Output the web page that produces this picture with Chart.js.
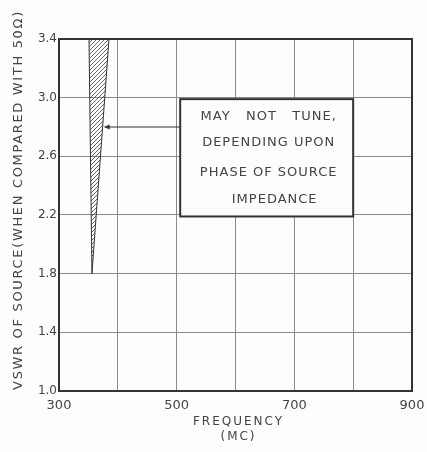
<!DOCTYPE html>
<html>
<head>
<meta charset="utf-8">
<script src="https://cdn.jsdelivr.net/npm/chart.js@4"></script>
<style>
  html, body { margin: 0; padding: 0; background: #fdfdfb; }
  #wrap { width: 427px; height: 452px; }
</style>
</head>
<body>
<div id="wrap"><canvas id="chart" width="427" height="452"></canvas></div>
<script>
// values
const xTickLabels = [300, 500, 700, 900];
const yTickLabels = [1.0, 1.4, 1.8, 2.2, 2.6, 3.0, 3.4];
const regionFreq = [351, 385, 356, 351];   // MC
const regionVswr = [3.4, 3.4, 1.8, 3.4];
const noteLines = ["MAY   NOT   TUNE,", "DEPENDING UPON", "PHASE OF SOURCE", "IMPEDANCE"];
const yTitle = "VSWR OF SOURCE(WHEN COMPARED WITH 50\u03A9)";
const xTitle = ["FREQUENCY", "(MC)"];

const ink = "#444";
const font = "'DejaVu Sans', sans-serif";

// diagonal hatch
function hatch() {
  const c = document.createElement("canvas");
  c.width = 4; c.height = 4;
  const g = c.getContext("2d");
  g.strokeStyle = "#555";
  g.lineWidth = 0.9;
  g.beginPath();
  g.moveTo(0, 4); g.lineTo(4, 0);
  g.moveTo(-1, 1); g.lineTo(1, -1);
  g.moveTo(3, 5); g.lineTo(5, 3);
  g.stroke();
  return g.createPattern(c, "repeat");
}

const notePlugin = {
  id: "note",
  afterDraw(chart) {
    const ctx = chart.ctx;
    const xs = chart.scales.x, ys = chart.scales.y;
    const ca = chart.chartArea;
    ctx.save();
    // outer frame
    ctx.strokeStyle = "#333";
    ctx.lineWidth = 2;
    ctx.strokeRect(ca.left, ca.top, ca.right - ca.left, ca.bottom - ca.top);
    // annotation box
    const l = xs.getPixelForValue(506), r = xs.getPixelForValue(800);
    const t = ys.getPixelForValue(2.99), b = ys.getPixelForValue(2.19);
    ctx.fillStyle = "#fdfdfb";
    ctx.fillRect(l, t, r - l, b - t);
    ctx.strokeRect(l, t, r - l, b - t);
    ctx.fillStyle = ink;
    ctx.font = "13px " + font;
    ctx.letterSpacing = "1px";
    ctx.textAlign = "center";
    ctx.textBaseline = "middle";
    const cx = (l + r) / 2 + 2;
    const ly = [117, 143, 173, 200];
    noteLines.forEach((s, i) => ctx.fillText(s, cx + (i === 3 ? 6 : 0), ly[i]));
    // arrow
    const ay = ys.getPixelForValue(2.80);
    const ax = xs.getPixelForValue(376);
    ctx.lineWidth = 1.2;
    ctx.beginPath();
    ctx.moveTo(l, ay); ctx.lineTo(ax + 2, ay);
    ctx.stroke();
    ctx.fillStyle = "#333";
    ctx.beginPath();
    ctx.moveTo(ax, ay); ctx.lineTo(ax + 6, ay - 2.5); ctx.lineTo(ax + 6, ay + 2.5);
    ctx.closePath(); ctx.fill();
    // x title
    ctx.fillStyle = ink;
    ctx.font = "12px " + font;
    ctx.letterSpacing = "2px";
    const mx = (ca.left + ca.right) / 2 + 3;
    ctx.fillText(xTitle[0], mx, 422);
    ctx.fillText(xTitle[1], mx, 437);
    // y title
    ctx.font = "13px " + font;
    ctx.letterSpacing = "0px";
    const w0 = ctx.measureText(yTitle).width;
    ctx.letterSpacing = ((380 - w0) / yTitle.length).toFixed(2) + "px";
    ctx.translate(19, 200);
    ctx.rotate(-Math.PI / 2);
    ctx.fillText(yTitle, 0, 0);
    ctx.restore();
  }
};

new Chart(document.getElementById("chart"), {
  type: "line",
  data: {
    datasets: [{
      data: regionFreq.map((f, i) => ({ x: f, y: regionVswr[i] })),
      borderColor: "#333",
      borderWidth: 1,
      backgroundColor: hatch(),
      fill: "shape",
      pointRadius: 0,
      tension: 0
    }]
  },
  options: {
    responsive: false,
    animation: false,
    layout: { padding: { top: 39, right: 15, left: 0, bottom: 0 } },
    plugins: { legend: { display: false }, tooltip: { enabled: false } },
    scales: {
      x: {
        type: "linear",
        min: 300, max: 900,
        afterFit(s) { s.height = 61; s.paddingRight = 0; },
        afterBuildTicks(s) { s.ticks = [300, 400, 500, 600, 700, 800, 900].map(v => ({ value: v })); },
        ticks: {
          color: ink,
          font: { family: font, size: 13 },
          maxRotation: 0,
          autoSkip: false,
          padding: 7,
          callback: v => xTickLabels.includes(v) ? String(v) : ""
        },
        grid: { color: "#8a8a8a", lineWidth: 1, drawTicks: false },
        border: { color: "#333", width: 2 }
      },
      y: {
        min: 1.0, max: 3.4,
        afterFit(s) { s.width = 59; },
        afterBuildTicks(s) { s.ticks = yTickLabels.map(v => ({ value: v })); },
        ticks: {
          color: ink,
          font: { family: font, size: 12 },
          padding: 2,
          callback: v => v.toFixed(1)
        },
        grid: { color: "#8a8a8a", lineWidth: 1, drawTicks: false },
        border: { color: "#333", width: 2 }
      }
    }
  },
  plugins: [notePlugin]
});
</script>
</body>
</html>
